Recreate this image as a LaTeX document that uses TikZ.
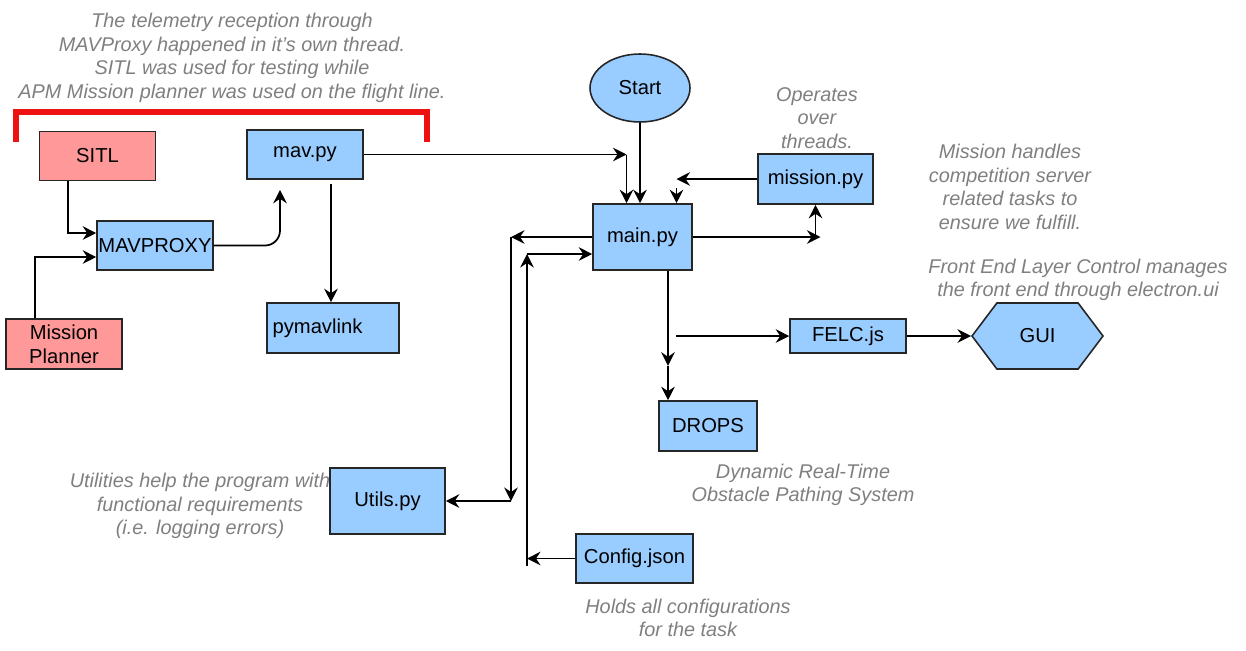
\documentclass[tikz,border=0pt]{standalone}
\usepackage{fontspec}
\setmainfont{Liberation Sans}
\usetikzlibrary{positioning,arrows.meta,shapes.geometric,shapes.symbols}
\definecolor{boxblue}{HTML}{99CCFF}
\definecolor{boxpink}{HTML}{FF9999}
\definecolor{notegray}{HTML}{7F7F7F}
\definecolor{bracketred}{HTML}{EE1111}

\begin{document}
\begin{tikzpicture}[x=0.02cm, y=-0.02cm, >={Stealth[length=0.27cm,width=0.27cm,inset=0.09cm]},
  blk/.style={draw=black!85, fill=boxblue, line width=0.9pt, inner sep=0pt, minimum width=2.32cm, minimum height=0.98cm, font=\fontsize{11.5}{13.4}\selectfont, align=center},
  pinkblk/.style={blk, fill=boxpink},
  note/.style={text=notegray, font=\fontsize{11.3}{13.4}\selectfont\itshape, align=center},
  conn/.style={->, line width=1pt}]
  \useasboundingbox (0,0) rectangle (1246,650);

  \node[note] (telenote) at (232,58) {The telemetry reception through\\MAVProxy happened in it's own thread.\\SITL was used for testing while\\APM Mission planner was used on the flight line.};
  \node[note] (opnote) at (817,118) {Operates\\over\\threads.};
  \node[note] (misnote) at (1010,187) {Mission handles\\competition server\\related tasks to\\ensure we fulfill.};
  \node[note] (felcnote) at (1078,280) {Front End Layer Control manages\\the front end through electron.ui};
  \node[note] (dropsnote) at (803,485) {Dynamic Real-Time\\Obstacle Pathing System};
  \node[note] (utilnote) at (200,506) {Utilities help the program with\\functional requirements\\(i.e. logging errors)};
  \node[note] (confnote) at (688,618) {Holds all configurations\\for the task};

  \draw[bracketred, line width=3pt] (16,142) |- (427,112) -- (427,142);

  \node[pinkblk] (sitl) at (97.5,156) {SITL};
  \node[blk] (mavproxy) at (155,245.5) {MAVPROXY};
  \node[pinkblk, minimum height=1cm] (planner) at (64,344) {Mission\\Planner};
  \node[blk] (mav) at (305,154.5) {mav.py};
  \node[blk, minimum width=2.64cm, minimum height=1cm] (pymavlink) at (333,328) {pymavlink\hspace{0.62cm}};
  \node[blk, ellipse, minimum width=2cm, minimum height=1.36cm] (start) at (640,88) {Start};
  \node[blk, minimum width=1.98cm, minimum height=1.32cm] (main) at (642.5,237) {main.py};
  \node[blk, minimum width=2.3cm, minimum height=1cm] (mission) at (815.5,179) {mission.py};
  \node[blk, minimum height=0.68cm] (felc) at (848,336) {FELC.js};
  \node[blk, signal, signal to=east and west, signal pointer angle=106, minimum width=2.62cm, minimum height=1.32cm] (gui) at (1037.5,336) {GUI};
  \node[blk, minimum width=1.96cm, minimum height=1cm] (drops) at (708,426) {DROPS};
  \node[blk, minimum width=2.3cm, minimum height=1.32cm] (utils) at (387.5,501) {Utils.py};
  \node[blk, minimum width=2.34cm] (config) at (634.5,558.5) {Config.json};

  \coordinate (ubus) at (511,0);
  \coordinate (cbus) at (527,0);
  \coordinate (mavin) at ([xshift=-0.32cm]main.north |- mav.east);
  \coordinate (misin) at ([xshift=0.68cm]main.north |- mission.west);
  \coordinate (misout) at (mission.south |- main.east);
  \coordinate (split) at ([xshift=0.51cm,yshift=-1.9cm]main.south);

  \draw[conn] ([xshift=-0.59cm]sitl.south) |- ([yshift=0.25cm]mavproxy.west);
  \draw[conn] ([xshift=-0.58cm]planner.north) |- ([yshift=-0.23cm]mavproxy.west);
  \draw[conn, rounded corners=0.3cm, shorten >=0.2cm] (mavproxy.east) -| ([xshift=-0.5cm]mav.south);
  \draw[conn] ([xshift=0.52cm,yshift=-0.08cm]mav.south) -- ([xshift=0.52cm]mav.south |- pymavlink.north);
  \draw[conn] (mav.east) -- (mavin);
  \draw[conn] (mavin) -- (mavin |- main.north);
  \draw[conn] (start.south) -- (start.south |- main.north);
  \draw[conn] (mission.west) -- (misin);
  \draw[conn] ([yshift=-0.18cm]misin) -- (misin |- main.north);
  \draw[conn] (main.east) -- ([xshift=0.1cm]misout);
  \draw[conn] (misout) -- (mission.south);
  \draw[conn] (main.west) -- (ubus |- main.west);
  \draw[conn] (ubus |- main.west) -- (ubus |- utils.east);
  \draw[conn] (ubus |- utils.east) -- (utils.east);
  \draw[conn] (config.west) -- (cbus |- config.west);
  \draw[conn] ([yshift=-0.14cm]cbus |- config.west) -- ([yshift=-0.34cm]cbus |- main.west);
  \draw[conn] ([yshift=-0.34cm]cbus |- main.west) -- ([yshift=-0.34cm]main.west);
  \draw[conn] ([xshift=0.51cm]main.south) -- (split);
  \draw[conn] (split) -- (split |- drops.north);
  \draw[conn] ([xshift=0.16cm]split |- felc.west) -- (felc.west);
  \draw[conn] (felc.east) -- (gui.west);
\end{tikzpicture}
\end{document}
